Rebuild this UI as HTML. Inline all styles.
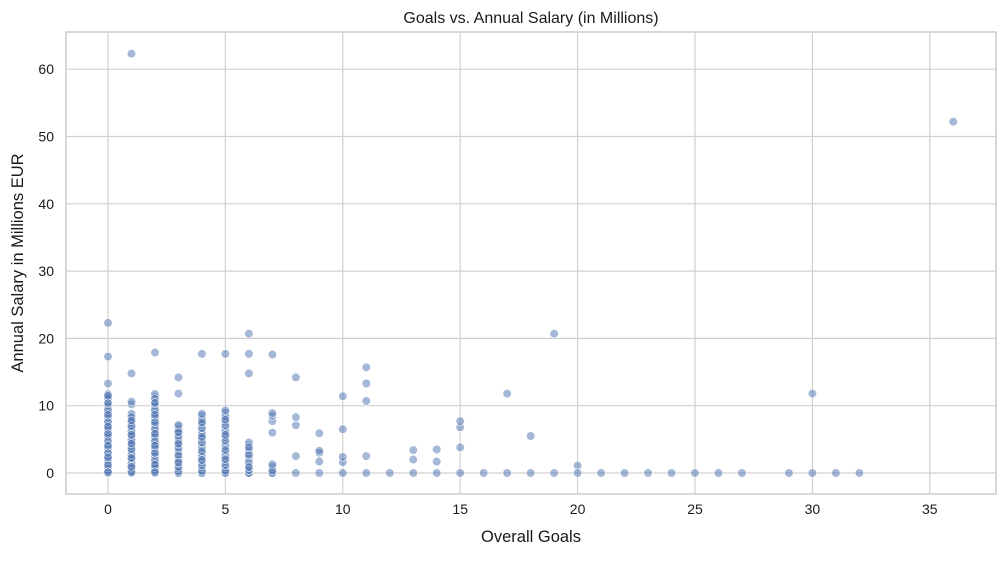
<!DOCTYPE html>
<html><head><meta charset="utf-8"><style>
body{margin:0;background:#fff;width:1006px;height:556px;overflow:hidden}
svg text{font-family:"Liberation Sans","DejaVu Sans",sans-serif;fill:#1a1a1a}
</style></head><body>
<svg id="s" width="1006" height="556" xmlns="http://www.w3.org/2000/svg">
<rect x="66" y="32" width="930" height="462" fill="#fff" stroke="#ccc" stroke-width="1.5"/>
<g id="grid" stroke="#d0d0d0" stroke-width="1.2"></g>
<g id="pts"></g>
<g id="lbl" font-size="14"></g>
<text x="531" y="23" font-size="16" text-anchor="middle">Goals vs. Annual Salary (in Millions)</text>
<text x="531" y="542" font-size="16.5" text-anchor="middle">Overall Goals</text>
<text transform="translate(23,263) rotate(-90)" font-size="16.5" text-anchor="middle">Annual Salary in Millions EUR</text>
</svg>
<script>
var NS="http://www.w3.org/2000/svg";
function X(g){return 108+g*23.48}
function Y(v){return 473-v*6.73}
var grid=document.getElementById('grid'),lbl=document.getElementById('lbl'),pts=document.getElementById('pts');
function el(p,t,a,txt){var e=document.createElementNS(NS,t);for(var k in a)e.setAttribute(k,a[k]);if(txt!==undefined)e.textContent=txt;p.appendChild(e);}
for(var g=0;g<=35;g+=5){el(grid,'line',{x1:X(g),x2:X(g),y1:32,y2:494});el(lbl,'text',{x:X(g),y:514,'text-anchor':'middle'},g);}
for(var v=0;v<=60;v+=10){el(grid,'line',{x1:66,x2:996,y1:Y(v),y2:Y(v)});el(lbl,'text',{x:54,y:Y(v)+5,'text-anchor':'end'},v);}
var d=[];
function col(g,max,n,extra){d.push([g,0]);for(var i=0;i<n;i++){d.push([g,max*((i*0.618)%1)]);}(extra||[]).forEach(function(s){d.push([g,s])});}
col(0,12,45,[13.3,17.3,22.3]);
col(1,9,40,[10.2,10.6,14.8,62.3]);
col(2,12,42,[17.9]);
col(3,7.3,25,[11.8,14.2]);
col(4,9,25,[17.7]);
col(5,9.5,25,[17.7]);
col(6,4.8,12,[14.8,17.7,20.7]);
col(7,1.5,4,[6,7.7,8.5,8.9,17.6]);
[[8,2.5],[8,7.1],[8,8.3],[8,14.2],[9,1.7],[9,3],[9,3.3],[9,5.9],[10,1.6],[10,2.4],[10,6.5],[10,11.4],[11,2.5],[11,10.7],[11,13.3],[11,15.7],[13,2],[13,3.4],[14,1.7],[14,3.5],[15,3.8],[15,6.8],[15,7.7],[17,11.8],[18,5.5],[19,20.7],[20,1.1],[30,11.8],[36,52.2]].forEach(function(p){d.push(p)});
[8,9,10,11,12,13,14,15,16,17,18,19,20,21,22,23,24,25,26,27,29,30,31,32].forEach(function(g){d.push([g,0])});
d.forEach(function(p){el(pts,'circle',{cx:X(p[0]),cy:Y(p[1]),r:4.3,fill:'#4c72b0','fill-opacity':0.5,stroke:'#fff','stroke-width':0.6});});
</script>
</body></html>
